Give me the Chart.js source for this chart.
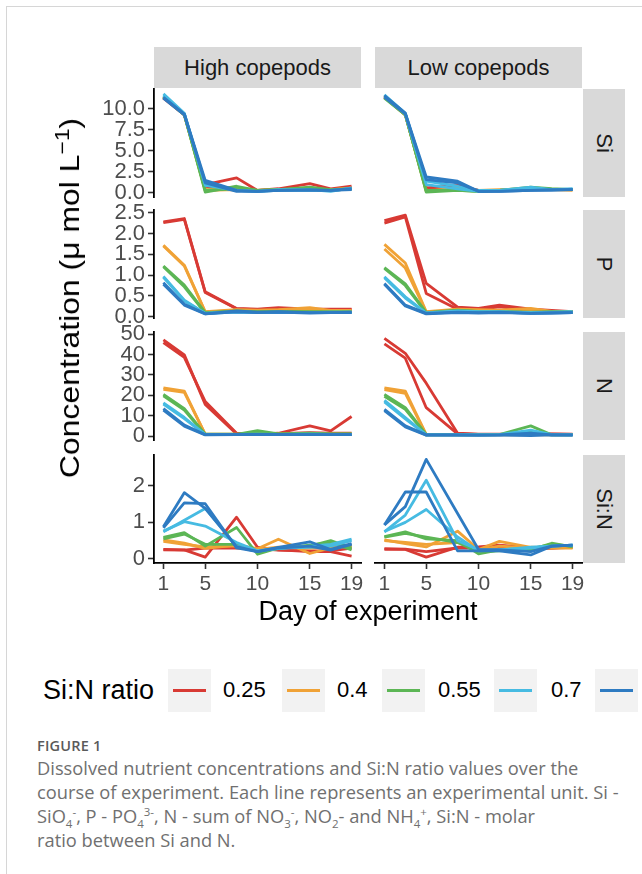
<!DOCTYPE html>
<html><head><meta charset="utf-8">
<script src="https://cdn.jsdelivr.net/npm/chart.js@4.4.1/dist/chart.umd.min.js"></script>
<style>
html,body{margin:0;padding:0;width:642px;height:874px;overflow:hidden;background:#fff;}
#root{position:relative;width:642px;height:874px;font-family:"Liberation Sans",Arial,sans-serif;overflow:hidden;}
#root canvas{position:absolute;}
.frame{position:absolute;left:6px;top:6px;width:700px;height:900px;border-left:1px solid #d6d6d6;border-top:1px solid #d6d6d6;}
.strip{position:absolute;background:#d9d9d9;color:#1a1a1a;font-size:22px;display:flex;align-items:center;justify-content:center;}
.strip.v span{display:inline-block;transform:rotate(90deg);white-space:nowrap;}
.title{position:absolute;color:#000;font-size:27px;white-space:nowrap;}
.legend-title{position:absolute;left:43px;top:675px;font-size:27px;color:#000;white-space:nowrap;line-height:30px;}
.key{position:absolute;top:669px;width:43px;height:43px;background:#f2f2f2;}
.key i{position:absolute;left:5px;right:5px;top:20px;height:3px;}
.klab{position:absolute;top:678px;font-size:22px;line-height:24px;color:#000;white-space:nowrap;}
.cap{position:absolute;left:37px;font-family:"Open Sans",sans-serif;color:#707070;white-space:nowrap;}
.fig{top:736px;font-size:14.5px;font-weight:600;color:#5a5a5a;letter-spacing:0.2px;}
.txt{top:756px;font-size:18.3px;line-height:24px;}
.txt sub,.txt sup{font-size:11.5px;line-height:0;}
</style></head>
<body><div id="root"><div class="frame"></div></div>
<script>
// ---------- data ----------
const days = [1, 3, 5, 8, 10, 12, 15, 17, 19];
const ratios = ['0.25', '0.4', '0.55', '0.7', '0.85'];
const unitRatio = [0, 0, 1, 1, 2, 2, 3, 3, 4, 4];
const xTicks = [1, 5, 10, 15, 19];
const siTicks = [0, 2.5, 5, 7.5, 10];
const pTicks = [0, 0.5, 1, 1.5, 2, 2.5];
const nTicks = [0, 10, 20, 30, 40, 50];
const sinTicks = [0, 1, 2];
const copepods = ['High copepods', 'Low copepods'];
const variables = ['Si', 'P', 'N', 'Si:N'];

const SI_HIGH = [
  [11.4, 9.4, 1.0, 1.8, 0.3, 0.5, 1.1, 0.5, 0.8],
  [11.3, 9.3, 0.8, 0.5, 0.3, 0.4, 0.6, 0.4, 0.6],
  [11.5, 9.4, 0.4, 0.5, 0.3, 0.4, 0.5, 0.4, 0.5],
  [11.4, 9.3, 0.3, 0.4, 0.3, 0.4, 0.4, 0.4, 0.6],
  [11.5, 9.4, 0.1, 0.8, 0.3, 0.4, 0.7, 0.4, 0.5],
  [11.4, 9.3, 0.3, 0.5, 0.3, 0.4, 0.5, 0.3, 0.5],
  [11.8, 9.5, 0.9, 0.3, 0.2, 0.4, 0.4, 0.2, 0.6],
  [11.6, 9.4, 1.2, 0.3, 0.2, 0.3, 0.3, 0.3, 0.5],
  [11.4, 9.4, 1.5, 0.3, 0.2, 0.3, 0.4, 0.3, 0.5],
  [11.3, 9.3, 1.2, 0.2, 0.2, 0.3, 0.3, 0.3, 0.4]
];
const SI_LOW = [
  [11.5, 9.4, 0.6, 0.9, 0.3, 0.3, 0.5, 0.4, 0.4],
  [11.4, 9.3, 0.5, 0.6, 0.3, 0.3, 0.4, 0.4, 0.4],
  [11.6, 9.4, 0.2, 0.6, 0.3, 0.4, 0.5, 0.4, 0.4],
  [11.4, 9.3, 0.3, 0.4, 0.2, 0.3, 0.4, 0.4, 0.3],
  [11.4, 9.4, 0.1, 0.3, 0.2, 0.3, 0.7, 0.5, 0.4],
  [11.3, 9.3, 0.3, 0.3, 0.2, 0.3, 0.5, 0.4, 0.4],
  [11.7, 9.5, 1.4, 0.8, 0.3, 0.3, 0.7, 0.4, 0.5],
  [11.5, 9.4, 1.0, 0.5, 0.2, 0.3, 0.5, 0.4, 0.4],
  [11.6, 9.5, 1.9, 1.4, 0.2, 0.2, 0.3, 0.4, 0.4],
  [11.4, 9.4, 1.6, 1.2, 0.2, 0.2, 0.3, 0.3, 0.4]
];
const P_HIGH = [
  [2.28, 2.36, 0.60, 0.20, 0.18, 0.22, 0.18, 0.18, 0.18],
  [2.26, 2.34, 0.58, 0.19, 0.17, 0.20, 0.17, 0.17, 0.17],
  [1.72, 1.24, 0.12, 0.17, 0.16, 0.17, 0.22, 0.15, 0.15],
  [1.70, 1.22, 0.11, 0.16, 0.15, 0.16, 0.18, 0.14, 0.14],
  [1.22, 0.76, 0.10, 0.14, 0.12, 0.13, 0.12, 0.12, 0.12],
  [1.20, 0.72, 0.09, 0.13, 0.11, 0.12, 0.11, 0.11, 0.11],
  [0.97, 0.40, 0.08, 0.12, 0.10, 0.11, 0.10, 0.11, 0.11],
  [0.95, 0.38, 0.08, 0.11, 0.10, 0.10, 0.10, 0.10, 0.10],
  [0.82, 0.30, 0.07, 0.14, 0.11, 0.12, 0.10, 0.10, 0.11],
  [0.78, 0.28, 0.07, 0.12, 0.10, 0.11, 0.09, 0.10, 0.10]
];
const P_LOW = [
  [2.31, 2.44, 0.80, 0.23, 0.20, 0.28, 0.18, 0.15, 0.12],
  [2.25, 2.40, 0.56, 0.18, 0.18, 0.24, 0.16, 0.13, 0.12],
  [1.74, 1.29, 0.12, 0.18, 0.17, 0.16, 0.20, 0.13, 0.12],
  [1.63, 1.17, 0.11, 0.16, 0.15, 0.15, 0.17, 0.12, 0.12],
  [1.18, 0.79, 0.10, 0.16, 0.13, 0.13, 0.11, 0.12, 0.12],
  [1.16, 0.75, 0.09, 0.15, 0.12, 0.12, 0.10, 0.11, 0.11],
  [0.96, 0.48, 0.09, 0.14, 0.12, 0.12, 0.10, 0.11, 0.12],
  [0.94, 0.45, 0.08, 0.13, 0.11, 0.11, 0.09, 0.10, 0.11],
  [0.80, 0.28, 0.08, 0.11, 0.10, 0.11, 0.08, 0.09, 0.10],
  [0.78, 0.26, 0.07, 0.10, 0.09, 0.10, 0.08, 0.09, 0.10]
];
const N_HIGH = [
  [47.1, 39.8, 15.6, 1.2, 1.0, 1.5, 5.1, 2.7, 9.7],
  [45.8, 38.6, 17.0, 1.5, 1.2, 1.3, 1.8, 1.6, 1.5],
  [23.7, 22.1, 1.0, 1.0, 1.0, 1.0, 1.2, 1.1, 1.0],
  [23.0, 21.5, 0.9, 0.9, 0.9, 1.0, 1.1, 1.0, 1.0],
  [20.5, 13.5, 1.0, 1.0, 2.8, 1.2, 1.6, 1.2, 1.2],
  [19.8, 12.8, 0.9, 0.9, 1.5, 1.0, 1.2, 1.0, 1.0],
  [16.4, 9.2, 0.8, 0.9, 1.0, 0.9, 1.0, 0.9, 0.9],
  [15.8, 8.6, 0.8, 0.8, 0.9, 0.9, 0.9, 0.8, 0.9],
  [13.5, 5.5, 0.8, 0.8, 0.9, 0.9, 0.8, 0.8, 0.8],
  [12.8, 5.0, 0.7, 0.8, 0.8, 0.8, 0.8, 0.8, 0.8]
];
const N_LOW = [
  [47.9, 40.6, 26.0, 1.5, 1.0, 1.0, 1.0, 1.2, 1.0],
  [45.2, 38.2, 14.0, 1.2, 0.9, 0.9, 0.9, 1.0, 0.9],
  [23.7, 22.1, 0.8, 0.8, 0.8, 0.8, 0.9, 0.8, 0.8],
  [22.8, 21.0, 0.7, 0.7, 0.7, 0.7, 0.8, 0.7, 0.7],
  [20.5, 14.0, 0.8, 0.8, 0.8, 0.9, 5.1, 0.8, 0.8],
  [19.6, 13.2, 0.7, 0.7, 0.7, 0.8, 2.0, 0.7, 0.7],
  [17.6, 9.2, 0.7, 0.7, 0.7, 0.8, 3.0, 0.8, 0.7],
  [16.8, 8.5, 0.7, 0.7, 0.7, 0.7, 1.5, 0.7, 0.7],
  [13.2, 5.1, 0.7, 0.7, 0.6, 0.7, 1.6, 0.7, 0.7],
  [12.5, 4.6, 0.6, 0.6, 0.6, 0.6, 0.4, 0.7, 0.6]
];
const SIN_HIGH = [
  [0.26, 0.25, 0.05, 1.14, 0.32, 0.25, 0.20, 0.20, 0.08],
  [0.25, 0.24, 0.30, 0.30, 0.28, 0.24, 0.22, 0.22, 0.30],
  [0.52, 0.43, 0.29, 0.38, 0.28, 0.54, 0.15, 0.30, 0.35],
  [0.48, 0.40, 0.33, 0.36, 0.26, 0.32, 0.30, 0.32, 0.38],
  [0.59, 0.72, 0.35, 0.86, 0.13, 0.30, 0.35, 0.50, 0.30],
  [0.55, 0.68, 0.40, 0.40, 0.20, 0.28, 0.38, 0.45, 0.25],
  [0.74, 1.06, 1.38, 0.35, 0.22, 0.30, 0.32, 0.35, 0.50],
  [0.76, 1.02, 0.90, 0.45, 0.22, 0.28, 0.35, 0.40, 0.54],
  [0.88, 1.81, 1.38, 0.34, 0.20, 0.30, 0.35, 0.24, 0.40],
  [0.85, 1.53, 1.51, 0.30, 0.20, 0.32, 0.47, 0.26, 0.42]
];
const SIN_LOW = [
  [0.26, 0.26, 0.05, 0.32, 0.33, 0.38, 0.30, 0.30, 0.33],
  [0.28, 0.27, 0.20, 0.30, 0.30, 0.32, 0.28, 0.30, 0.32],
  [0.52, 0.42, 0.33, 0.76, 0.26, 0.48, 0.32, 0.30, 0.30],
  [0.50, 0.45, 0.40, 0.45, 0.25, 0.35, 0.30, 0.32, 0.32],
  [0.61, 0.74, 0.55, 0.50, 0.14, 0.25, 0.25, 0.43, 0.33],
  [0.60, 0.70, 0.60, 0.45, 0.20, 0.22, 0.28, 0.40, 0.35],
  [0.74, 1.20, 2.15, 0.50, 0.25, 0.25, 0.32, 0.35, 0.38],
  [0.75, 1.00, 1.35, 0.60, 0.22, 0.25, 0.30, 0.35, 0.38],
  [0.93, 1.43, 2.72, 1.24, 0.26, 0.25, 0.20, 0.35, 0.38],
  [0.93, 1.83, 1.83, 0.22, 0.22, 0.22, 0.11, 0.35, 0.38]
];

// ---------- styling / layout ----------
const ratioColors = ['#d83a34', '#f0a236', '#5cb655', '#46bbe2', '#2e7bc2'];
const FONT = '"Liberation Sans", Arial, sans-serif';
const rowsCfg = [
  {high: SI_HIGH, low: SI_LOW, ticks: siTicks, min: -0.48, max: 12.38, dec: 1},
  {high: P_HIGH, low: P_LOW, ticks: pTicks, min: -0.03, max: 2.565, dec: 1},
  {high: N_HIGH, low: N_LOW, ticks: nTicks, min: -1.8, max: 51, dec: 0},
  {high: SIN_HIGH, low: SIN_LOW, ticks: sinTicks, min: -0.11, max: 2.84, dec: 0}
];
const colLeft = [154, 375], rowTop = [89, 210, 332, 455], PW = 207, PH = 108;
const root = document.getElementById('root');

function el(cls, css, html) {
  const d = document.createElement('div');
  d.className = cls; Object.assign(d.style, css); d.innerHTML = html; root.appendChild(d); return d;
}

function makePanel(r, c) {
  const row = rowsCfg[r];
  const showY = c === 0, showX = r === 3;
  const yW = showY ? 66 : 0, xH = showX ? 36 : 0, P = 24;
  const W = P + yW + PW + P, H = P + PH + xH + P;
  const cv = document.createElement('canvas');
  cv.width = W; cv.height = H;
  Object.assign(cv.style, {left: (colLeft[c] - P - yW) + 'px', top: (rowTop[r] - P) + 'px', width: W + 'px', height: H + 'px'});
  root.appendChild(cv);
  const series = c === 0 ? row.high : row.low;
  const axisCommon = {
    grid: {display: true, drawOnChartArea: false, drawTicks: true, tickLength: 6, tickWidth: 1.6, tickColor: '#333'},
    border: {display: true, color: '#000', width: 1.8}
  };
  // Chart.js paints dataset 0 last (on top); reverse so the 0.85 units end up on top like ggplot
  const datasets = series.map((vals, i) => ({
    label: ratios[unitRatio[i]],
    data: days.map((d, j) => ({x: d, y: vals[j]})),
    borderColor: ratioColors[unitRatio[i]],
    borderWidth: 2.8, pointRadius: 0, tension: 0, fill: false,
    borderJoinStyle: 'round'
  })).reverse();
  new Chart(cv, {
    type: 'line',
    data: {datasets},
    options: {
      responsive: false, animation: false, devicePixelRatio: 1,
      layout: {padding: P},
      plugins: {legend: {display: false}, tooltip: {enabled: false}},
      scales: {
        x: Object.assign({
          type: 'linear', min: 0.1, max: 19.9, display: showX,
          afterBuildTicks: ax => { ax.ticks = xTicks.map(v => ({value: v})); },
          afterFit: ax => { ax.height = xH; },
          ticks: {color: '#4d4d4d', font: {family: FONT, size: 21}, padding: 3, maxRotation: 0, autoSkip: false,
                  callback: v => String(v)}
        }, axisCommon),
        y: Object.assign({
          type: 'linear', min: row.min, max: row.max, display: showY,
          afterBuildTicks: ax => { ax.ticks = row.ticks.map(v => ({value: v})); },
          afterFit: ax => { ax.width = yW; },
          ticks: {color: '#4d4d4d', font: {family: FONT, size: 22}, padding: 3, autoSkip: false,
                  callback: v => Number(v).toFixed(row.dec)}
        }, axisCommon)
      }
    }
  });
}

// strips
copepods.forEach((t, c) => el('strip', {left: colLeft[c] + 'px', top: '47px', width: PW + 'px', height: '41px'}, t));
variables.forEach((t, r) => el('strip v', {left: '583px', top: rowTop[r] + 'px', width: '42px', height: PH + 'px'}, '<span>' + t + '</span>'));

for (let r = 0; r < 4; r++) for (let c = 0; c < 2; c++) makePanel(r, c);

// axis titles
el('title', {left: '368px', top: '611px', transform: 'translate(-50%,-50%)', lineHeight: '30px'}, 'Day of experiment');
el('title', {left: '70px', top: '298px', fontSize: '28px', transform: 'translate(-50%,-50%) rotate(-90deg) scaleX(1.14)', lineHeight: '30px'},
   'Concentration (\u03bc mol L<sup style="font-size:20px;line-height:0;">\u22121</sup>)');

// legend
el('legend-title', {}, 'Si:N ratio');
const keyX = [168, 282, 382, 494, 595], labX = [223, 337, 438, 551, 652];
ratios.forEach((t, i) => {
  el('key', {left: keyX[i] + 'px'}, '<i style="background:' + ratioColors[i] + '"></i>');
  el('klab', {left: labX[i] + 'px'}, t);
});

// caption
el('cap fig', {}, 'FIGURE 1');
el('cap txt', {}, 'Dissolved nutrient concentrations and Si:N ratio values over the<br>' +
  'course of experiment. Each line represents an experimental unit. Si -<br>' +
  'SiO<sub>4</sub><sup>-</sup>, P - PO<sub>4</sub><sup>3-</sup>, N - sum of NO<sub>3</sub><sup>-</sup>, NO<sub>2</sub>- and NH<sub>4</sub><sup>+</sup>, Si:N - molar<br>' +
  'ratio between Si and N.');
</script></body></html>
